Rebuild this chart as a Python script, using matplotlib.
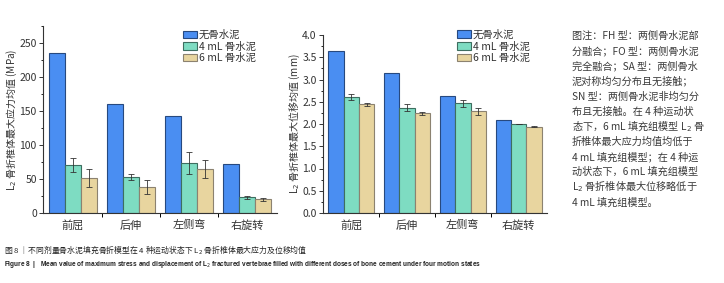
import matplotlib
matplotlib.use("Agg")
import matplotlib.pyplot as plt
import numpy as np
from matplotlib.ticker import MultipleLocator, FixedLocator

plt.rcParams['font.family'] = ['Noto Sans CJK SC', 'DejaVu Sans']
plt.rcParams['axes.unicode_minus'] = False

categories = ['前屈', '后伸', '左侧弯', '右旋转']
series_names = ['无骨水泥', '4 mL 骨水泥', '6 mL 骨水泥']

stress_none = [236, 161, 143, 72]
stress_4ml = [71, 53, 74, 23]
stress_6ml = [51, 38, 65, 20]
stress_4ml_err = [10, 4, 16, 2]
stress_6ml_err = [13, 10, 13, 2]

disp_none = [3.65, 3.14, 2.62, 2.10]
disp_4ml = [2.60, 2.37, 2.47, 2.00]
disp_6ml = [2.44, 2.24, 2.29, 1.94]
disp_4ml_err = [0.07, 0.07, 0.08, 0.01]
disp_6ml_err = [0.04, 0.04, 0.08, 0.01]

face_colors = ['#4A8EF2', '#7EDCC2', '#E8D59F']
edge_colors = ['#27497F', '#3E6E60', '#8C8270']

W, H = 724, 283
fig = plt.figure(figsize=(W / 100, H / 100), dpi=100)

def frac_axes(x0, y0, x1, y1):
    return fig.add_axes([x0 / W, 1 - y1 / H, (x1 - x0) / W, (y1 - y0) / H])

ax1 = frac_axes(43, 26, 277, 213)
ax2 = frac_axes(323, 35, 547, 213)

bw = 0.275
x = np.arange(len(categories))

def draw(ax, vals, errs, ylim, major, minor, ylabel, leg_anchor, label_x):
    for i, (v, e) in enumerate(zip(vals, errs)):
        ax.bar(x + (i - 1) * bw, v, bw, color=face_colors[i],
               edgecolor=edge_colors[i], linewidth=0.8,
               yerr=e, error_kw=dict(ecolor='#333333', elinewidth=0.6,
                                     capsize=2, capthick=0.6),
               label=series_names[i], zorder=2)
    ax.set_xlim(-0.51, 3.51)
    ax.set_ylim(*ylim)
    ax.yaxis.set_major_locator(MultipleLocator(major))
    ax.yaxis.set_minor_locator(MultipleLocator(minor))
    ax.set_xticks(x)
    ax.set_xticklabels(categories, fontsize=8, color='#333333')
    ax.xaxis.set_minor_locator(FixedLocator([0.5, 1.5, 2.5]))
    ax.tick_params(axis='x', which='major', length=0, pad=5)
    ax.tick_params(axis='x', which='minor', length=3, width=0.7, direction='out')
    ax.tick_params(axis='y', which='major', length=3, width=0.7, labelsize=7.5,
                   colors='#333333', pad=1.5)
    ax.tick_params(axis='y', which='minor', length=1.8, width=0.6)
    for s in ['top', 'right']:
        ax.spines[s].set_visible(False)
    for s in ['left', 'bottom']:
        ax.spines[s].set_linewidth(0.8)
        ax.spines[s].set_color('#333333')
    ax.set_ylabel(ylabel, fontsize=7.2, color='#333333', va='center')
    ax.yaxis.set_label_coords(label_x, 0.5)
    ax.legend(loc='upper left', bbox_to_anchor=leg_anchor, frameon=False,
              fontsize=7.5, handlelength=1.3, handleheight=0.75,
              handletextpad=0.2, labelspacing=0.15, borderpad=0,
              borderaxespad=0, labelcolor='#333333')

draw(ax1, [stress_none, stress_4ml, stress_6ml],
     [None, stress_4ml_err, stress_6ml_err], (0, 275), 50, 25,
     r'L$_2$ 骨折椎体最大应力均值 (MPa)', (0.60, 0.98), -0.132)
draw(ax2, [disp_none, disp_4ml, disp_6ml],
     [None, disp_4ml_err, disp_6ml_err], (0, 4.0), 0.5, 0.25,
     r'L$_2$ 骨折椎体最大位移均值 (mm)', (0.6, 1.03), -0.125)
ax2.yaxis.set_major_formatter(matplotlib.ticker.FormatStrFormatter('%.1f'))

note_lines = [
    '图注：FH 型：两侧骨水泥部',
    '分融合；FO 型：两侧骨水泥',
    '完全融合；SA 型：两侧骨水',
    '泥对称均匀分布且无接触；',
    'SN 型：两侧骨水泥非均匀分',
    '布且无接触。在 4 种运动状',
    r'态下，6 mL 填充组模型 L$_2$ 骨',
    '折椎体最大应力均值均低于',
    '4 mL 填充组模型；在 4 种运',
    '动状态下，6 mL 填充组模型',
    r'L$_2$ 骨折椎体最大位移略低于',
    '4 mL 填充组模型。',
]
y0 = 36
for i, line in enumerate(note_lines):
    fig.text(572 / W, 1 - (y0 + i * 15.1) / H, line, fontsize=7.3,
             color='#3a3a3a', va='center', ha='left')

cap1 = fig.text(4 / W, 1 - 250 / H,
                r'图 8 ｜不同剂量骨水泥填充骨折模型在 4 种运动状态下 L$_2$ 骨折椎体最大应力及位移均值',
                fontsize=6.0, color='#222222', va='center', ha='left')

cap2 = fig.text(4 / W, 1 - 264 / H,
                r'Figure 8  |   Mean value of maximum stress and displacement of L$_2$ fractured vertebrae filled with different doses of bone cement under four motion states',
                fontsize=5.0, family=['Liberation Sans'], fontweight='bold',
                color='#222222', va='center', ha='left')

# fit caption widths to the reference widths
fig.canvas.draw()
renderer = fig.canvas.get_renderer()
for t, target in [(cap1, 303), (cap2, 483)]:
    for _ in range(3):
        w = t.get_window_extent(renderer).width
        t.set_fontsize(t.get_fontsize() * target / w)
        fig.canvas.draw()

fig.savefig('out.png', dpi=100)
